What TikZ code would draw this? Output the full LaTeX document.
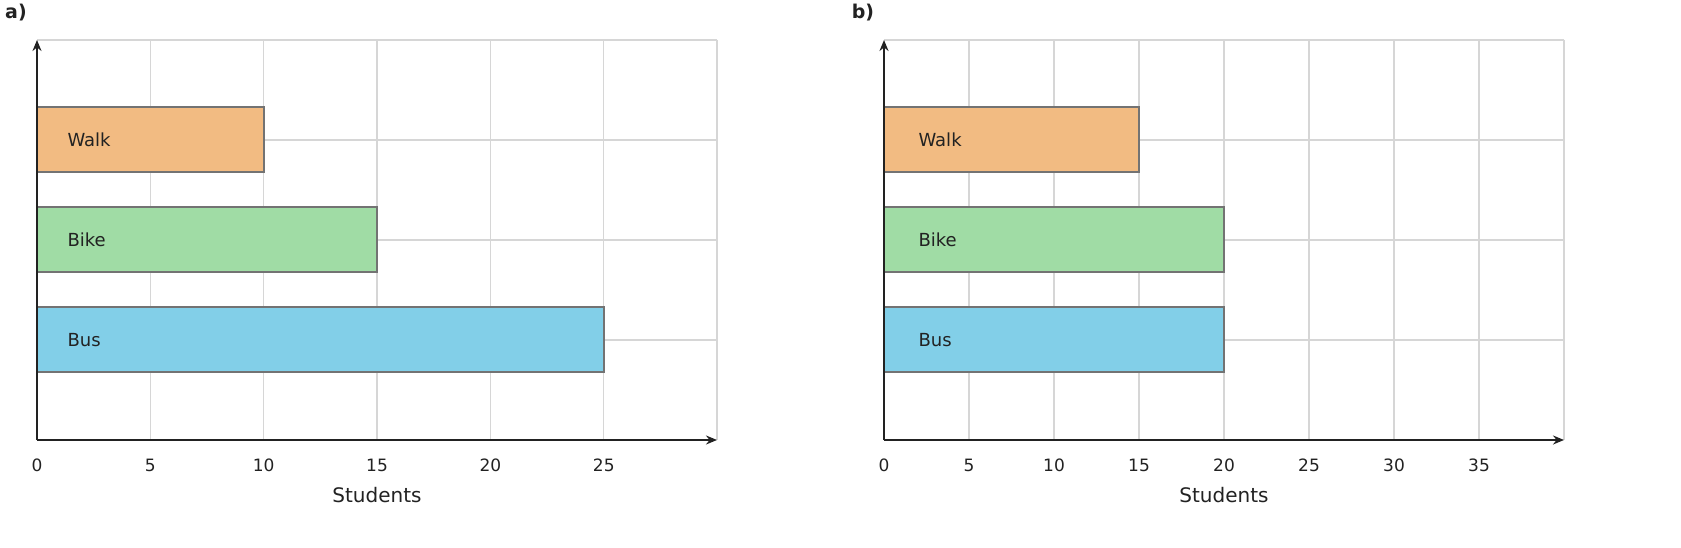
\documentclass[tikz,border=0pt]{standalone}
\usepackage{fontspec}
\setmainfont{DejaVu Sans}
\usetikzlibrary{arrows.meta}
\definecolor{walkc}{HTML}{F2BB82}
\definecolor{bikec}{HTML}{A0DCA5}
\definecolor{busc}{HTML}{82CFE8}
\definecolor{gridc}{HTML}{D6D6D6}
\definecolor{axisc}{HTML}{222222}
\begin{document}
\begin{tikzpicture}[x=1pt, y=-1pt,
	grid/.style={gridc, line width=1.2pt},
	axis/.style={axisc, line width=2.4pt, -{Stealth[length=11pt, width=9pt]}},
	bar/.style={draw=gray!90!black, line width=1.3pt},
	tick/.style={font=\fontsize{17}{20}\selectfont, text=axisc},
	lbl/.style={font=\fontsize{18}{21}\selectfont, text=axisc, anchor=west},
	title/.style={font=\fontsize{19}{22}\bfseries\selectfont, text=axisc}]
			
			\useasboundingbox (0, 0) rectangle (1681, 548);
			
			% chart a
			\foreach \i in {5, 10, ..., 25} \draw [grid] (37 + \i*22.67, 40) -- (37 + \i*22.67, 440);
			\draw [grid] (717, 40) -- (717, 440);
			\foreach \y in {40, 140, 240, 340} \draw [grid] (37, \y) -- (717, \y);
			\draw [bar, fill=walkc] (37, 107) rectangle (264, 172);
			\draw [bar, fill=bikec] (37, 207) rectangle (377, 272);
			\draw [bar, fill=busc] (37, 307) rectangle (604, 372);
			\node [lbl] (walkA) at (64, 140) {Walk};
			\node [lbl] (bikeA) at (64, 240) {Bike};
			\node [lbl] (busA) at (64, 340) {Bus};
			\coordinate (oA) at (37, 440);
			\draw [axis] (oA) -- (717, 440);
			\draw [axis] (oA) -- (37, 40);
			\foreach \i in {0, 5, ..., 25} \node [tick] at (37 + \i*22.67, 465) {\i};
			\node [tick, font=\fontsize{20}{23}\selectfont] (studA) at (377, 495) {Students};
			\node [title] (a) at (16, 13) {a)};
			
			% chart b
			\foreach \i in {5, 10, ..., 35} \draw [grid] (884 + \i*17, 40) -- (884 + \i*17, 440);
			\draw [grid] (1564, 40) -- (1564, 440);
			\foreach \y in {40, 140, 240, 340} \draw [grid] (884, \y) -- (1564, \y);
			\draw [bar, fill=walkc] (884, 107) rectangle (1139, 172);
			\draw [bar, fill=bikec] (884, 207) rectangle (1224, 272);
			\draw [bar, fill=busc] (884, 307) rectangle (1224, 372);
			\node [lbl] (walkB) at (915, 140) {Walk};
			\node [lbl] (bikeB) at (915, 240) {Bike};
			\node [lbl] (busB) at (915, 340) {Bus};
			\coordinate (oB) at (884, 440);
			\draw [axis] (oB) -- (1564, 440);
			\draw [axis] (oB) -- (884, 40);
			\foreach \i in {0, 5, ..., 35} \node [tick] at (884 + \i*17, 465) {\i};
			\node [tick, font=\fontsize{20}{23}\selectfont] (studB) at (1224, 495) {Students};
			\node [title] (b) at (863, 13) {b)};
			
\end{tikzpicture}
\end{document}
